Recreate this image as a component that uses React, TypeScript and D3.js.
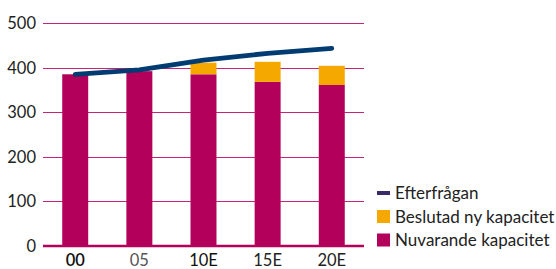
import { useEffect, useRef } from 'react'
import * as d3 from 'd3'

const categories = ['00', '05', '10E', '15E', '20E']
const nuvarande = [385, 392, 385, 368, 361]
const beslutad = [0, 0, 26, 45, 43]
const efterfragan = [385, 395, 417, 432, 443]
const yTicks = [0, 100, 200, 300, 400, 500]
const labelColors = ['#111', '#555', '#111', '#222', '#222']

const MAGENTA = '#b3005a'
const YELLOW = '#f5a800'
const NAVY = '#003b71'

export default function App() {
  const svgRef = useRef<SVGSVGElement>(null)

  useEffect(() => {
    if (!svgRef.current) return
    const svg = d3.select(svgRef.current)
    svg.selectAll('*').remove()

    const left = 43
    const right = 364
    const top = 23
    const bottom = 246
    const font = 'Lato, "Liberation Sans", sans-serif'

    const x = d3.scaleBand().domain(categories).range([left, right]).paddingInner(0.595).paddingOuter(0.3)
    const y = d3.scaleLinear().domain([0, 500]).range([bottom, top])

    // gridlines
    svg.append('g').selectAll('line').data(yTicks.filter(d => d > 0)).enter().append('line')
      .attr('x1', left).attr('x2', right)
      .attr('y1', d => Math.round(y(d)) + 0.5).attr('y2', d => Math.round(y(d)) + 0.5)
      .attr('stroke', '#c4257a').attr('stroke-width', 1.2)

    // y labels
    svg.append('g').selectAll('text').data(yTicks).enter().append('text')
      .attr('x', 36).attr('y', d => y(d) + 6)
      .attr('text-anchor', 'end')
      .style('font-family', font).style('font-size', '16.5px').style('fill', '#222')
      .text(d => d)

    // bars
    const g = svg.append('g')
    g.selectAll('.cur').data(categories).enter().append('rect')
      .attr('x', d => x(d)!).attr('width', x.bandwidth())
      .attr('y', (d, i) => y(nuvarande[i])).attr('height', (d, i) => bottom - y(nuvarande[i]))
      .attr('fill', MAGENTA)
    g.selectAll('.new').data(categories).enter().append('rect')
      .attr('x', d => x(d)!).attr('width', x.bandwidth())
      .attr('y', (d, i) => y(nuvarande[i] + beslutad[i])).attr('height', (d, i) => y(nuvarande[i]) - y(nuvarande[i] + beslutad[i]))
      .attr('fill', YELLOW)

    // x axis line
    svg.append('line').attr('x1', left).attr('x2', right).attr('y1', bottom).attr('y2', bottom)
      .attr('stroke', MAGENTA).attr('stroke-width', 2.5)

    // x labels
    svg.append('g').selectAll('text').data(categories).enter().append('text')
      .attr('x', d => x(d)! + x.bandwidth() / 2).attr('y', 266)
      .attr('text-anchor', 'middle')
      .style('font-family', font).style('font-size', '16.5px')
      .style('font-weight', (d, i) => (i === 0 ? '600' : '400'))
      .style('fill', (d, i) => labelColors[i])
      .text(d => d)

    // demand line
    const line = d3.line<number>()
      .x((d, i) => x(categories[i])! + x.bandwidth() / 2)
      .y(d => y(d))
    svg.append('path').datum(efterfragan).attr('d', line)
      .attr('fill', 'none').attr('stroke', NAVY).attr('stroke-width', 4.8)
      .attr('stroke-linecap', 'round').attr('stroke-linejoin', 'round')

    // legend
    const legend = [
      { label: 'Efterfrågan', color: '#3a2a66', kind: 'line' },
      { label: 'Beslutad ny kapacitet', color: YELLOW, kind: 'rect' },
      { label: 'Nuvarande kapacitet', color: MAGENTA, kind: 'rect' },
    ]
    const lg = svg.append('g')
    legend.forEach((l, i) => {
      const cy = 193 + i * 23.5
      if (l.kind === 'line') {
        lg.append('rect').attr('x', 377).attr('y', cy - 2).attr('width', 13).attr('height', 4).attr('fill', l.color)
      } else {
        lg.append('rect').attr('x', 377).attr('y', cy - 6.5).attr('width', 13).attr('height', 13).attr('fill', l.color)
      }
      lg.append('text').attr('x', 395).attr('y', cy + 6)
        .style('font-family', font).style('font-size', '17px').style('fill', '#222')
        .text(l.label)
    })
  }, [])

  return (
    <svg ref={svgRef} width={556} height={269} style={{ position: 'absolute', left: 0, top: 0 }} />
  )
}
